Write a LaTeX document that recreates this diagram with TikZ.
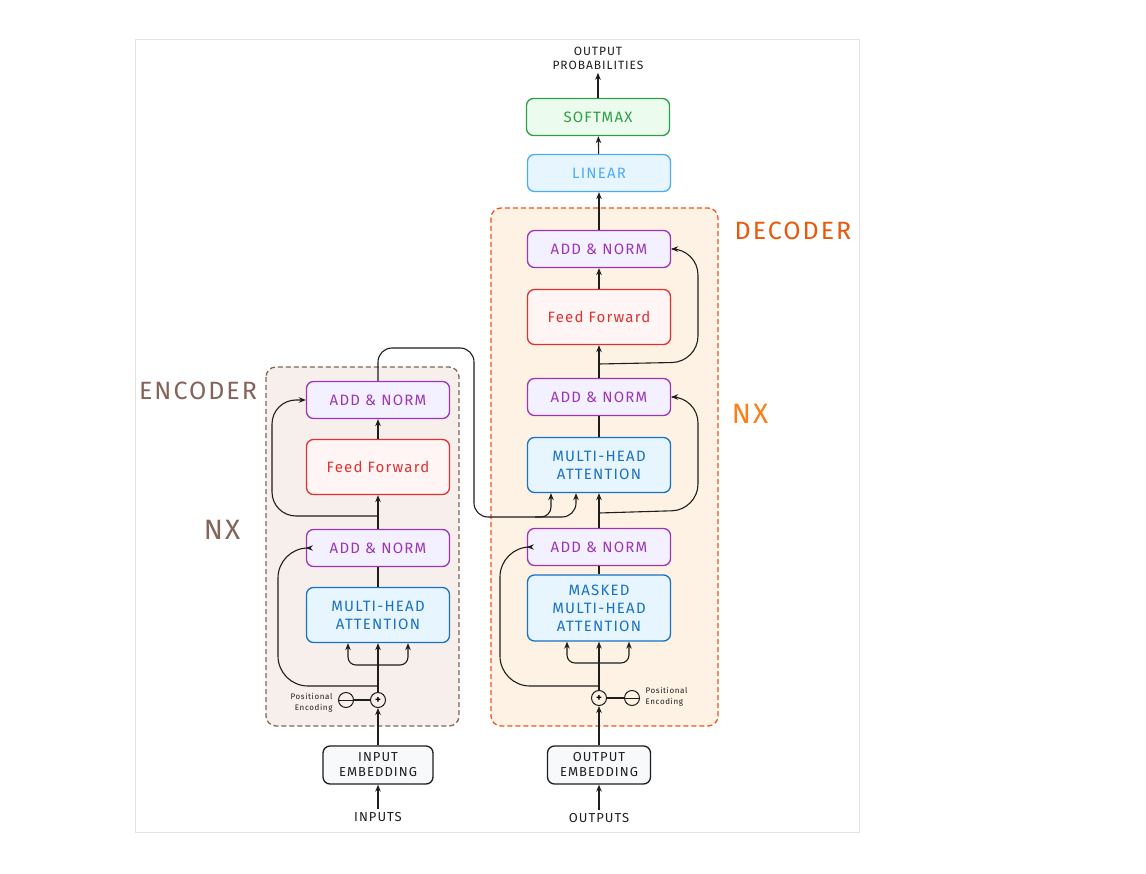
\documentclass[tikz,border=0pt]{standalone}
\usepackage{fontspec}
\setmainfont{Fira Sans}[LetterSpace=8]
\usepackage{xcolor}
\definecolor{inkgray}{HTML}{1E1E1E}
\definecolor{framegray}{HTML}{E3E3E3}
\definecolor{myviolet}{HTML}{9C36B5}
\definecolor{violetfill}{HTML}{F3F0FF}
\definecolor{myred}{HTML}{E03131}
\definecolor{redfill}{HTML}{FFF5F5}
\definecolor{myblue}{HTML}{1971C2}
\definecolor{bluefill}{HTML}{E7F5FF}
\definecolor{lightblue}{HTML}{4DABF7}
\definecolor{mygreen}{HTML}{2F9E44}
\definecolor{greenfill}{HTML}{EBFBEE}
\definecolor{embfill}{HTML}{F8F9FA}
\definecolor{encbrown}{HTML}{846358}
\definecolor{encfill}{HTML}{F7EFEC}
\definecolor{decred}{HTML}{F4511E}
\definecolor{decfill}{HTML}{FDF2E3}
\definecolor{decorange}{HTML}{E8590C}
\definecolor{nxorange}{HTML}{FD7E14}
\usetikzlibrary{
    arrows.meta,
    positioning
}

\begin{document}
\begin{tikzpicture}[
  x=1pt, y=-1pt,
  every node/.style={font=\fontsize{15}{18}\selectfont, align=center},
  block/.style={draw, rounded corners=7pt, line width=1.3pt, minimum width=143pt, minimum height=37pt, inner sep=2pt},
  addnorm/.style={block, draw=myviolet, fill=violetfill, text=myviolet},
  ffwd/.style={block, draw=myred, fill=redfill, text=myred, minimum height=55pt},
  attn/.style={block, draw=myblue, fill=bluefill, text=myblue, minimum height=55pt},
  embed/.style={block, draw=inkgray, fill=embfill, text=inkgray, minimum width=110pt, minimum height=38pt, font=\fontsize{13}{15}\selectfont},
  circ/.style={circle, draw=inkgray, line width=1pt, minimum size=15pt, inner sep=0pt, font=\fontsize{11}{11}\selectfont\bfseries},
  minus/.style={path picture={\draw[inkgray, line width=1pt] (path picture bounding box.west) -- (path picture bounding box.east);}},
  plain/.style={text=inkgray, font=\fontsize{13}{15}\selectfont},
  tiny/.style={text=inkgray, font=\fontsize{8}{11}\selectfont},
  stack/.style={rounded corners=10pt, line width=1.3pt, dash pattern=on 5pt off 3pt},
  arrow/.style={-{Stealth[length=7pt,width=5.5pt]}, line width=1.1pt, draw=inkgray},
  link/.style={line width=1.1pt, draw=inkgray}
]
\useasboundingbox (0,0) rectangle (1146,874);
\draw[framegray, line width=1pt, fill=white] (135,40) rectangle (859,832);

% encoder
\draw[stack, draw=encbrown, fill=encfill] (266,367) rectangle (459,726);
\node[text=encbrown, font=\fontsize{25}{27}\selectfont] (enclab) at (198,391) {ENCODER};
\node[text=encbrown, font=\fontsize{28}{30}\selectfont] (encnx) at (222,530) {NX};

\node[addnorm] (ean2) at (378,400) {ADD \& NORM};
\node[ffwd] (eff) at (378,467) {Feed Forward};
\node[addnorm] (ean1) at (378,548) {ADD \& NORM};
\node[attn] (emha) at (378,615) {MULTI-HEAD\\ATTENTION};
\node[circ, minus] (epos) at (346,700) {};
\node[circ] (eadd) at (378,700) {+};
\node[tiny, anchor=east, align=right] (eposl) at (336,703) {Positional\\Encoding};
\node[embed] (eemb) at (378,765) {INPUT\\EMBEDDING};
\node[plain] (ein) at (378,817) {INPUTS};

\coordinate (ejoin) at (378,686);
\coordinate (esplit) at (378,665);
\coordinate (ejoin2) at (378,516);

\draw[arrow] (ein) -- (eemb);
\draw[arrow] (eemb) -- (eadd);
\draw[link] (epos) -- (eadd);
\draw[link] (eadd) -- (ejoin);
\draw[arrow] (ejoin) -- (emha);
\draw[arrow, rounded corners=8] (esplit) -| ([xshift=-30pt]emha.south);
\draw[arrow, rounded corners=8] (esplit) -| ([xshift=30pt]emha.south);
\draw[arrow, rounded corners=30] (ejoin) -- (278,686) -- (278,548) -- (ean1.west);
\draw[link] (emha) -- (ean1);
\draw[arrow] (ean1) -- (eff);
\draw[arrow, rounded corners=24] (ejoin2) -- (272,516) -- (272,400) -- (ean2.west);
\draw[arrow] (eff) -- (ean2);

% decoder
\draw[stack, draw=decred, fill=decfill] (491,208) rectangle (718,726);
\node[text=decorange, font=\fontsize{25}{27}\selectfont] (declab) at (793,231) {DECODER};
\node[text=nxorange, font=\fontsize{28}{30}\selectfont] (decnx) at (750,414) {NX};

\node[plain, font=\fontsize{12}{14}\selectfont] (prob) at (598,58) {OUTPUT\\PROBABILITIES};
\node[block, draw=mygreen, fill=greenfill, text=mygreen] (soft) at (598,117) {SOFTMAX};
\node[block, draw=lightblue, fill=bluefill, text=lightblue] (lin) at (599,173) {LINEAR};
\node[addnorm] (dan3) at (599,249) {ADD \& NORM};
\node[ffwd] (dff) at (599,317) {Feed Forward};
\node[addnorm] (dan2) at (599,397) {ADD \& NORM};
\node[attn] (dmha) at (599,465) {MULTI-HEAD\\ATTENTION};
\node[addnorm] (dan1) at (599,547) {ADD \& NORM};
\node[attn, minimum height=66pt] (dmmha) at (599,608) {MASKED\\MULTI-HEAD\\ATTENTION};
\node[circ] (dadd) at (599,698) {+};
\node[circ, minus] (dpos) at (632,698) {};
\node[tiny, anchor=west, align=left] (dposl) at (642,697) {Positional\\Encoding};
\node[embed, minimum width=103pt] (demb) at (599,765) {OUTPUT\\EMBEDDING};
\node[plain] (dout) at (599,818) {OUTPUTS};

\coordinate (djoin) at (599,686);
\coordinate (dsplit) at (599,663);
\coordinate (djoin2) at (599,513);
\coordinate (djoin3) at (599,364);
\coordinate (xa) at (551,517);
\coordinate (xb) at (576,517);

\draw[arrow] (dout) -- (demb);
\draw[arrow] (demb) -- (dadd);
\draw[link] (dadd) -- (dpos);
\draw[link] (dadd) -- (djoin);
\draw[arrow] (djoin) -- (dmmha);
\draw[arrow, rounded corners=8] (dsplit) -| ([xshift=-32pt]dmmha.south);
\draw[arrow, rounded corners=8] (dsplit) -| ([xshift=30pt]dmmha.south);
\draw[arrow, rounded corners=30] (djoin) -- (500,686) -- (500,547) -- (dan1.west);
\draw[link] (dmmha) -- (dan1);
\draw[arrow] (dan1) -- (dmha);
\draw[arrow, rounded corners=26] (djoin2) -- (698,510) -- (698,397) -- (dan2.east);
\draw[link] (dmha) -- (dan2);
\draw[arrow] (dan2) -- (dff);
\draw[arrow, rounded corners=26] (djoin3) -- (698,362) -- (698,249) -- (dan3.east);
\draw[arrow] (dff) -- (dan3);
\draw[arrow] (dan3) -- (lin);
\draw[arrow] (lin) -- (soft);
\draw[arrow] (soft) -- (prob);

% encoder output into decoder attention
\draw[arrow, rounded corners=14] (ean2.north) -- (378,348) -- (474,348) -- (474,517) -- (xb) -- (xb |- dmha.south);
\draw[arrow, rounded corners=10] (535,517) -| (xa |- dmha.south);

\end{tikzpicture}
\end{document}
